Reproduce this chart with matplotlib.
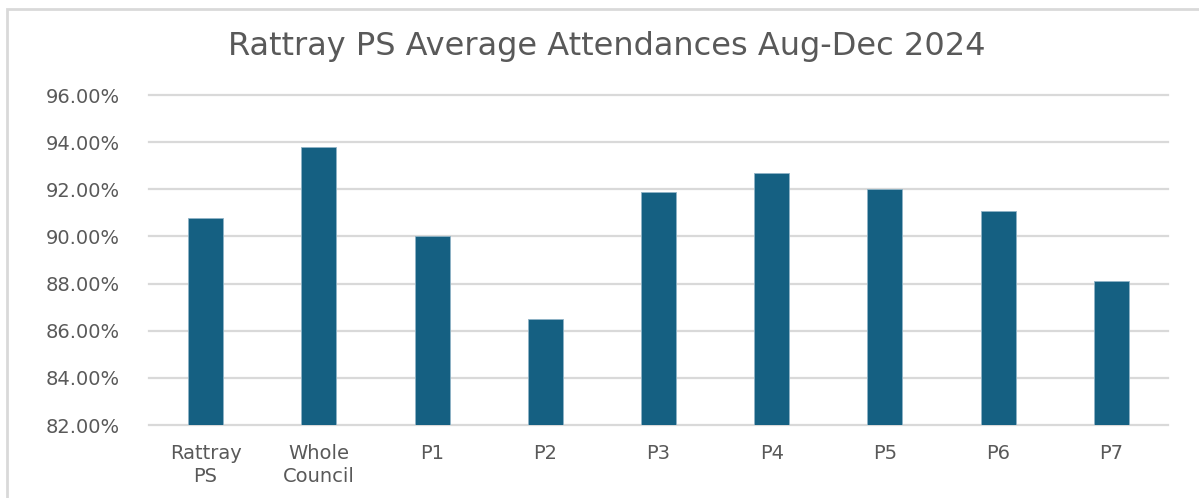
import numpy as np
import matplotlib.pyplot as plt
from matplotlib.patches import Rectangle
from matplotlib.ticker import FuncFormatter

# Data
categories = ['Rattray\nPS', 'Whole\nCouncil', 'P1', 'P2', 'P3', 'P4', 'P5', 'P6', 'P7']
attendance = [90.8, 93.8, 90.0, 86.5, 91.9, 92.7, 92.0, 91.1, 88.1]
yticks = [82, 84, 86, 88, 90, 92, 94, 96]

bar_col = '#156082'
txt_col = '#595959'
grid_col = '#D9D9D9'

plt.rcParams['font.family'] = ['DejaVu Sans']

fig = plt.figure(figsize=(11.99, 4.98), dpi=100)
W, H = 1199, 498
ax = fig.add_axes([149 / W, 1 - 425 / H, (1168 - 149) / W, (425 - 95) / H])

x = np.arange(len(categories))
ax.bar(x, attendance, width=0.31, color=bar_col, edgecolor='#8fb3c6', linewidth=0.6, zorder=3)

ax.set_xlim(-0.5, len(categories) - 0.5)
ax.set_ylim(82, 96)
ax.set_yticks(yticks)
ax.yaxis.set_major_formatter(FuncFormatter(lambda v, p: f'{v:.2f}%'))
ax.set_xticks(x)
ax.set_xticklabels(categories, linespacing=1.25)
ax.grid(axis='y', color=grid_col, linewidth=1.6, zorder=0)
for gl in ax.get_ygridlines():
    gl.set_clip_on(False)
for s in ax.spines.values():
    s.set_visible(False)
ax.tick_params(axis='both', length=0, colors=txt_col, labelsize=14)
ax.tick_params(axis='y', pad=21)
ax.tick_params(axis='x', pad=14)

fig.text(607 / W, 1 - 47 / H, 'Rattray PS Average Attendances Aug-Dec 2024',
         ha='center', va='center', fontsize=23, color=txt_col)

# chart frame
fig.patches.append(Rectangle((7 / W, -0.1), 1.2, 1 - 9 / H + 0.1, transform=fig.transFigure,
                             fill=False, edgecolor=grid_col, linewidth=2))

fig.savefig('out.png', dpi=100)
